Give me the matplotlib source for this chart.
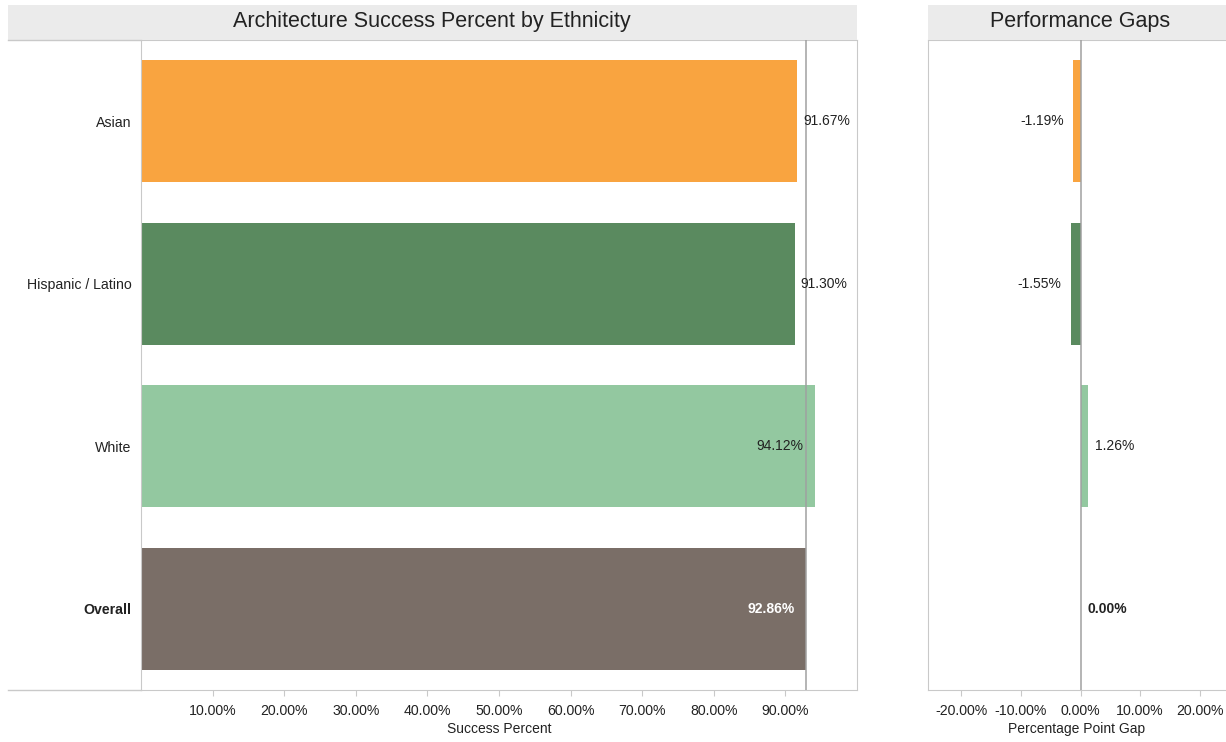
import matplotlib
matplotlib.use("Agg")
import matplotlib.pyplot as plt
from matplotlib.lines import Line2D
from matplotlib.patches import Rectangle

# Data
groups = ["Asian", "Hispanic / Latino", "White", "Overall"]
success = [91.67, 91.30, 94.12, 92.86]
gap = [-1.19, -1.55, 1.26, 0.00]
bar_colors = ["#F9A440", "#5A8A5F", "#93C8A0", "#7A6E67"]
success_ticks = [10, 20, 30, 40, 50, 60, 70, 80, 90]
gap_ticks = [-20, -10, 0, 10, 20]
overall_value = success[groups.index("Overall")]

plt.rcParams['font.family'] = ['Liberation Sans', 'DejaVu Sans']

W, H = 1226, 742
fig = plt.figure(figsize=(W / 100, H / 100), dpi=100)


def fx(px):
    return px / W


def fy(py):
    return 1 - py / H


line_col = "#c9c9c9"
text_col = "#222222"

# Title bands
fig.patches.append(Rectangle((fx(8), fy(40)), fx(857 - 8), 35 / H,
                             transform=fig.transFigure, facecolor="#ebebeb",
                             edgecolor="none", zorder=0))
fig.patches.append(Rectangle((fx(928), fy(40)), fx(W - 928), 35 / H,
                             transform=fig.transFigure, facecolor="#ebebeb",
                             edgecolor="none", zorder=0))
fig.text(fx(432), fy(22), "Architecture Success Percent by Ethnicity",
         ha="center", va="center", fontsize=15.5, color=text_col)
fig.text(fx(1080), fy(22), "Performance Gaps",
         ha="center", va="center", fontsize=15.5, color=text_col)

# Header/footer rules extending across the row-label column
for yy in (40, 690):
    fig.add_artist(Line2D([fx(8), fx(141)], [fy(yy), fy(yy)],
                          transform=fig.transFigure, color=line_col, lw=1))

pos = list(range(len(groups)))

# Left panel: success percent
ax = fig.add_axes([fx(141), fy(690), fx(857 - 141), 650 / H])
ax.barh(pos, success, height=0.75, color=bar_colors, zorder=2)
ax.axvline(overall_value, color="#a0a0a0", lw=1.1, zorder=3)
ax.set_xlim(0, 100)
ax.set_ylim(len(groups) - 0.5, -0.5)
ax.set_xticks(success_ticks, [f"{t:.2f}%" for t in success_ticks])
ax.set_yticks(pos, groups)
ax.tick_params(axis="y", length=0, pad=7, labelsize=10.2, labelcolor=text_col)
ax.tick_params(axis="x", length=4, color=line_col, labelsize=10.2,
               labelcolor=text_col, pad=6)
for lbl in ax.get_yticklabels():
    if lbl.get_text() == "Overall":
        lbl.set_fontweight("bold")
ax.set_xlabel("Success Percent", fontsize=10, color=text_col, labelpad=3)
for s in ax.spines.values():
    s.set_color(line_col)

for i, (g, v) in enumerate(zip(groups, success)):
    bold = g == "Overall"
    if v >= overall_value:
        ax.annotate(f"{v:.2f}%", (v, i), xytext=(-8, 0), textcoords="offset points",
                    ha="right", va="center", fontsize=10,
                    color="white" if bold else text_col,
                    fontweight="bold" if bold else "normal", zorder=4)
    else:
        ax.annotate(f"{v:.2f}%", (v, i), xytext=(4, 0), textcoords="offset points",
                    ha="left", va="center", fontsize=10, color=text_col, zorder=4)

# Right panel: percentage point gap
ax2 = fig.add_axes([fx(928), fy(690), 1 - fx(928), 650 / H])
ax2.barh(pos, gap, height=0.75, color=bar_colors, zorder=2)
ax2.axvline(0, color="#a0a0a0", lw=1.1, zorder=3)
ax2.set_xlim(-25.6, 24.4)
ax2.set_ylim(len(groups) - 0.5, -0.5)
ax2.set_xticks(gap_ticks, [f"{t:.2f}%" for t in gap_ticks])
ax2.set_yticks([])
ax2.tick_params(axis="x", length=4, color=line_col, labelsize=10.2,
                labelcolor=text_col, pad=6)
ax2.set_xlabel("Percentage Point Gap", fontsize=10, color=text_col, labelpad=3)
for s in ax2.spines.values():
    s.set_color(line_col)
ax2.spines["right"].set_visible(False)

for i, (g, v) in enumerate(zip(groups, gap)):
    bold = g == "Overall"
    if v < 0:
        ax2.annotate(f"{v:.2f}%", (v, i), xytext=(-7, 0), textcoords="offset points",
                     ha="right", va="center", fontsize=10, color=text_col)
    else:
        ax2.annotate(f"{v:.2f}%", (v, i), xytext=(5, 0), textcoords="offset points",
                     ha="left", va="center", fontsize=10, color=text_col,
                     fontweight="bold" if bold else "normal")

fig.savefig("out.png", dpi=100, facecolor="white")
